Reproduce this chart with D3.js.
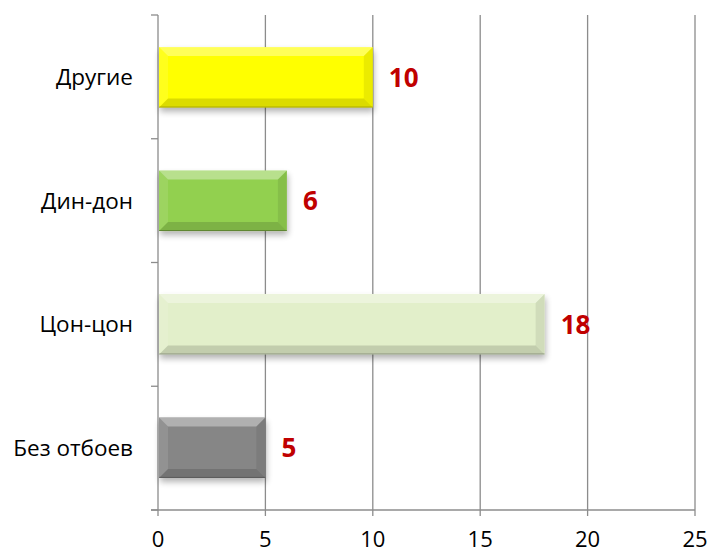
<!DOCTYPE html>
<html>
<head>
<meta charset="utf-8">
<script src="https://cdn.jsdelivr.net/npm/d3@7"></script>
<style>
  body { margin: 0; background: #fff; }
  svg { display: block; }
  .cat { font-family: "Open Sans", sans-serif; font-size: 22.5px; fill: #000; }
  .tick-lbl { font-family: "Open Sans", sans-serif; font-size: 22px; fill: #000; }
  .val { font-family: "Open Sans", "Liberation Sans", sans-serif; font-weight: bold; font-size: 26px; fill: #c00000; }
</style>
</head>
<body>
<div id="viz"></div>
<script>
const categories = ["Другие", "Дин-дон", "Цон-цон", "Без отбоев"];
const values = [10, 6, 18, 5];
const colors = ["#ffff00", "#92d050", "#e2efca", "#868686"];
const xTicks = [0, 5, 10, 15, 20, 25];

const width = 709, height = 554;
const plotLeft = 158, plotRight = 695, plotTop = 15, plotBottom = 510;

const svg = d3.select("#viz").append("svg")
    .attr("width", width)
    .attr("height", height);

const x = d3.scaleLinear().domain([0, 25]).range([plotLeft, plotRight]);
const y = d3.scaleBand().domain(categories).range([plotTop, plotBottom]).paddingInner(0.51).paddingOuter(0.26);
const yEdges = d3.scaleLinear().domain([0, categories.length]).range([plotTop, plotBottom]);

const defs = svg.append("defs");
const shadow = defs.append("filter").attr("id", "shadow")
    .attr("x", "-10%").attr("y", "-20%").attr("width", "130%").attr("height", "160%");
shadow.append("feGaussianBlur").attr("in", "SourceAlpha").attr("stdDeviation", 3);
shadow.append("feOffset").attr("dx", 1).attr("dy", 4).attr("result", "blur");
shadow.append("feComponentTransfer").append("feFuncA").attr("type", "linear").attr("slope", 0.3);
const merge = shadow.append("feMerge");
merge.append("feMergeNode");
merge.append("feMergeNode").attr("in", "SourceGraphic");

// gridlines
svg.append("g")
    .selectAll("line")
    .data(xTicks.slice(1))
    .join("line")
    .attr("x1", d => x(d)).attr("x2", d => x(d))
    .attr("y1", plotTop).attr("y2", plotBottom + 6)
    .attr("stroke", "#8c8c8c")
    .attr("stroke-width", 1.3);

// y axis line + ticks
svg.append("line")
    .attr("x1", plotLeft).attr("x2", plotLeft)
    .attr("y1", plotTop).attr("y2", plotBottom + 6)
    .attr("stroke", "#8c8c8c").attr("stroke-width", 1.3);
svg.append("g")
    .selectAll("line")
    .data(d3.range(categories.length + 1))
    .join("line")
    .attr("x1", plotLeft - 7).attr("x2", plotLeft)
    .attr("y1", d => yEdges(d)).attr("y2", d => yEdges(d))
    .attr("stroke", "#8c8c8c").attr("stroke-width", 1.3);

// x axis line
svg.append("line")
    .attr("x1", plotLeft - 7).attr("x2", plotRight)
    .attr("y1", plotBottom).attr("y2", plotBottom)
    .attr("stroke", "#8c8c8c").attr("stroke-width", 1.3);

// x tick labels
svg.append("g")
    .selectAll("text")
    .data(xTicks)
    .join("text")
    .attr("class", "tick-lbl")
    .attr("x", d => x(d))
    .attr("y", plotBottom + 37)
    .attr("text-anchor", "middle")
    .text(d => d);

// category labels
svg.append("g")
    .selectAll("text")
    .data(categories)
    .join("text")
    .attr("class", "cat")
    .attr("x", 133)
    .attr("y", d => y(d) + y.bandwidth() / 2)
    .attr("dy", "0.35em")
    .attr("text-anchor", "end")
    .text(d => d);

// bars with bevel
const bev = 9;
const bars = svg.append("g")
    .selectAll("g")
    .data(categories.map((c, i) => ({ cat: c, val: values[i], col: colors[i] })))
    .join("g")
    .attr("filter", "url(#shadow)");

bars.append("rect")
    .attr("x", x(0) + 1)
    .attr("y", d => y(d.cat))
    .attr("width", d => x(d.val) - x(0) - 1)
    .attr("height", y.bandwidth())
    .attr("fill", d => d.col);

function facet(d, side) {
    const x0 = x(0) + 1, x1 = x(d.val), y0 = y(d.cat), y1 = y0 + y.bandwidth();
    if (side === "top") return [[x0, y0], [x1, y0], [x1 - bev, y0 + bev], [x0 + bev, y0 + bev]];
    if (side === "bottom") return [[x0, y1], [x1, y1], [x1 - bev, y1 - bev], [x0 + bev, y1 - bev]];
    if (side === "left") return [[x0, y0], [x0 + bev, y0 + bev], [x0 + bev, y1 - bev], [x0, y1]];
    return [[x1, y0], [x1 - bev, y0 + bev], [x1 - bev, y1 - bev], [x1, y1]];
}
const facets = [
    { side: "top", fill: "#fff", op: 0.35 },
    { side: "left", fill: "#fff", op: 0.1 },
    { side: "right", fill: "#000", op: 0.08 },
    { side: "bottom", fill: "#000", op: 0.14 }
];
facets.forEach(f => {
    bars.append("polygon")
        .attr("points", d => facet(d, f.side).map(p => p.join(",")).join(" "))
        .attr("fill", f.fill)
        .attr("fill-opacity", f.op);
});
// thin dark edge along the bottom
bars.append("line")
    .attr("x1", x(0) + 1).attr("x2", d => x(d.val))
    .attr("y1", d => y(d.cat) + y.bandwidth() - 0.5)
    .attr("y2", d => y(d.cat) + y.bandwidth() - 0.5)
    .attr("stroke", "#000").attr("stroke-opacity", 0.25);

// value labels
svg.append("g")
    .selectAll("text")
    .data(categories)
    .join("text")
    .attr("class", "val")
    .attr("x", (d, i) => x(values[i]) + 16)
    .attr("y", d => y(d) + y.bandwidth() / 2)
    .attr("dy", "0.36em")
    .text((d, i) => values[i]);
</script>
</body>
</html>
